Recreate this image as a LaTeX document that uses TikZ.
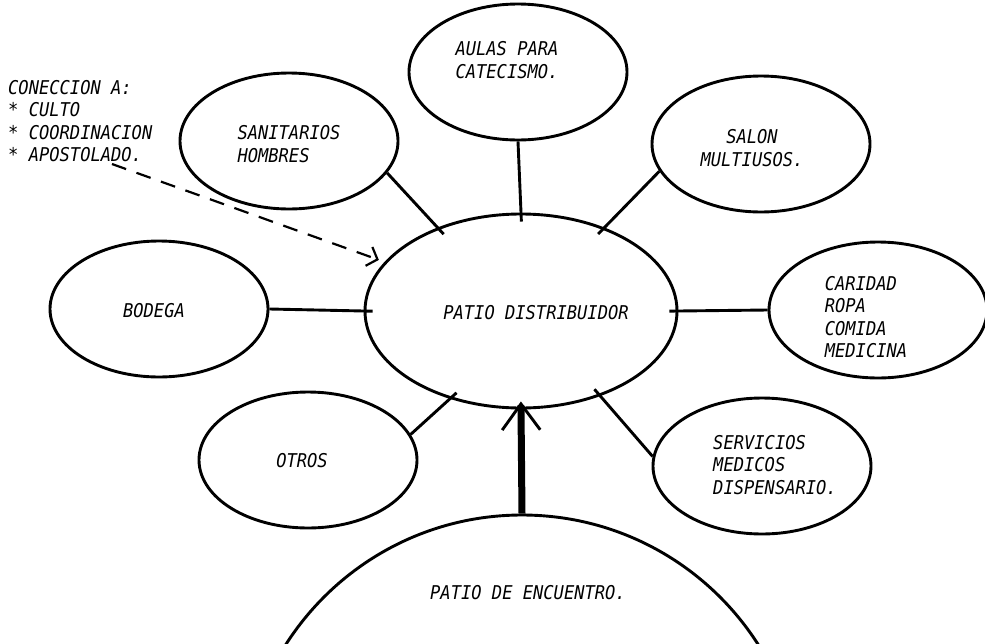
\documentclass[tikz,border=0pt]{standalone}
\usepackage{fontspec}
\setmainfont{DejaVu Sans Mono}[ItalicFont={DejaVu Sans Mono Oblique}, FakeStretch=0.9]
\usetikzlibrary{shapes.geometric,arrows.meta}

\tikzset{
  zona/.style={draw, ellipse, line width=2.9pt, minimum width=218pt, minimum height=136pt, inner sep=0pt},
  rotulo/.style={font=\fontsize{19}{22.5}\selectfont\itshape, inner sep=0pt},
  enlace/.style={line width=2.9pt, shorten >=-9pt},
}

\begin{document}
\begin{tikzpicture}[x=1pt, y=-1pt]
        \useasboundingbox (0,0) rectangle (985,643);

        % Draw zones
        \node[zona, minimum width=312pt, minimum height=194pt] (central) at (521,311) {};
        \foreach \n/\x/\y in {sanitarios/289/141, aulas/518/72, salon/761/144, bodega/159/309,
                              caridad/878/310, otros/308/460, servicios/762/466} {
            \node[zona] (\n) at (\x,\y) {};
        }
        \node[zona, minimum size=560pt] (encuentro) at (522,795) {};

        % Labels
        \node[rotulo] (centraltxt) at (536,313) {PATIO DISTRIBUIDOR};
        \node[rotulo, align=left] (sanitariostxt) at (289,144) {SANITARIOS\\HOMBRES};
        \node[rotulo, align=left] (aulastxt) at (507,60) {AULAS PARA\\CATECISMO.};
        \node[rotulo, align=center] (salontxt) at (752,148) {SALON\\MULTIUSOS.};
        \node[rotulo] (bodegatxt) at (154,311) {BODEGA};
        \node[rotulo, align=left] (caridadtxt) at (866,317) {CARIDAD\\ROPA\\COMIDA\\MEDICINA};
        \node[rotulo] (otrostxt) at (302,461) {OTROS};
        \node[rotulo, align=left] (serviciostxt) at (775,465) {SERVICIOS\\MEDICOS\\DISPENSARIO.};
        \node[rotulo] (encuentrotxt) at (528,593) {PATIO DE ENCUENTRO.};
        \node[rotulo, align=left, anchor=north west] (conexion) at (8,80)
            {CONECCION A:\\* CULTO\\* COORDINACION\\* APOSTOLADO.};

        % Connections to the central patio
        \foreach \a/\b in {sanitarios.-18/central.135, aulas.south/central.north, salon.195/central.45,
                           bodega.east/central.west, caridad.west/central.east,
                           otros.14/central.-129, servicios.175/central.-47} {
            \draw[enlace] (\a) -- (\b);
        }

        % Main access
        \draw[line width=7pt, shorten >=-8pt, -{Straight Barb[length=26pt, width=38pt, line width=2.9pt]}]
            (encuentro.north) -- (central.south);

        % Link from the note
        \coordinate (inicio) at (112,164);
        \draw[line width=2.2pt, dash pattern=on 15pt off 11pt, shorten >=6pt,
              -{Straight Barb[length=9pt, width=20pt, line width=2.2pt]}] (inicio) -- (central);
\end{tikzpicture}
\end{document}
